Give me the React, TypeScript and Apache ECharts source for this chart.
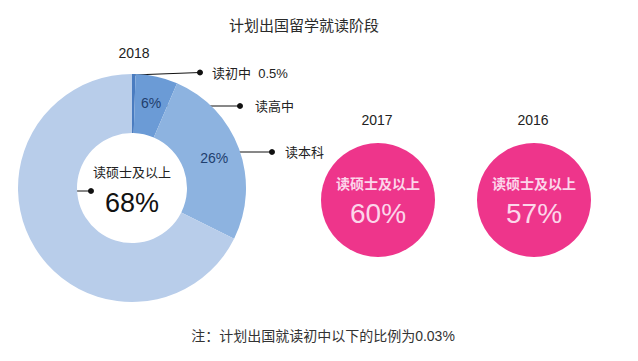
import React, { useEffect, useRef } from "react";
import * as echarts from "echarts";

const titleText = "计划出国留学就读阶段";
const footnote = "注：计划出国就读初中以下的比例为0.03%";
const stages = ["读初中", "读高中", "读本科", "读硕士及以上"];
const share2018 = [0.5, 6, 26, 68];
const years = ["2018", "2017", "2016"];
const masterShare = [68, 60, 57];

const FONT = "'Liberation Sans', 'Noto Sans CJK SC', sans-serif";
const sliceColors = ["#4a7cc0", "#6b9bd6", "#8db3e0", "#b8cdea"];
const pink = "#ee358b";
const pinkText = "#fcd6ea";

export default function App() {
  const ref = useRef<HTMLDivElement>(null);
  useEffect(() => {
    if (!ref.current) return;
    const chart = echarts.init(ref.current, null, { renderer: "svg" });

    const donutData = stages.map((name, i) => {
      const base: any = {
        name,
        value: share2018[i],
        itemStyle: { color: sliceColors[i] },
      };
      if (i === 0) {
        base.label = { show: false };
      } else if (i === 3) {
        base.label = {
          show: true,
          position: "center",
          formatter: "{a|{b}}\n{b|{c}%}",
          rich: {
            a: { fontSize: 13, color: "#222", fontFamily: FONT, lineHeight: 30 },
            b: { fontSize: 27, color: "#111", fontFamily: FONT, lineHeight: 32 },
          },
        };
      } else {
        base.label = {
          show: true,
          position: "inside",
          formatter: "{c}%",
          fontSize: 14,
          color: "#1f3f6e",
          fontFamily: FONT,
        };
      }
      return base;
    });

    const pinkCenters = [
      [378, 200],
      [534, 200],
    ];
    const pinkSeries = [1, 2].map((k, j) => ({
      type: "pie",
      silent: true,
      center: pinkCenters[j],
      radius: [0, 57],
      startAngle: 90,
      emphasis: { disabled: true },
      labelLine: { show: false },
      data: [
        {
          name: stages[3],
          value: masterShare[k],
          itemStyle: { color: pink },
        },
      ],
      label: {
        show: true,
        position: "center",
        formatter: "{a|{b}}\n{b|{c}%}",
        rich: {
          a: { fontSize: 14, color: pinkText, fontWeight: "bold", fontFamily: FONT, lineHeight: 26 },
          b: { fontSize: 28, color: pinkText, fontFamily: FONT, lineHeight: 32 },
        },
      },
    }));

    const yearPos = [
      [134, 53],
      [377, 120],
      [533, 120],
    ];

    const dot = (x: number, y: number) => ({
      type: "circle",
      shape: { cx: x, cy: y, r: 3 },
      style: { fill: "#111" },
      silent: true,
    });
    const seg = (x1: number, y1: number, x2: number, y2: number) => ({
      type: "line",
      shape: { x1, y1, x2, y2 },
      style: { stroke: "#111", lineWidth: 1 },
      silent: true,
    });
    const txt = (x: number, y: number, t: string, size = 13, align = "left", fill = "#222") => ({
      type: "text",
      x,
      y,
      silent: true,
      style: {
        text: t,
        fontSize: size,
        fontFamily: FONT,
        fill,
        align,
        verticalAlign: "middle",
      },
    });

    const graphics: any[] = [
      {
        type: "text",
        x: 304,
        y: 25,
        silent: true,
        style: {
          text: titleText,
          fontSize: 15,
          fontFamily: FONT,
          fill: "#2a2a2a",
          align: "center",
          verticalAlign: "middle",
        },
      },
      txt(323, 336, footnote, 14, "center", "#333"),
      ...years.map((y, i) => txt(yearPos[i][0], yearPos[i][1], y, 14, "center")),
      seg(133, 75, 200, 72.5),
      dot(200, 72.5),
      txt(212, 73, `${stages[0]}  ${share2018[0]}%`),
      seg(160, 106, 240, 106),
      dot(240, 106),
      txt(255, 106, stages[1]),
      seg(238, 152, 272, 152),
      dot(272, 152),
      txt(285, 152, stages[2]),
      seg(75, 191, 91, 191),
      dot(91, 191),
    ];

    chart.setOption({
      animation: false,
      backgroundColor: "#ffffff",
      textStyle: { fontFamily: FONT },
      series: [
        {
          type: "pie",
          silent: true,
          center: [132, 188],
          radius: [55, 114],
          startAngle: 90,
          clockwise: true,
          avoidLabelOverlap: false,
          minAngle: 0,
          emphasis: { disabled: true },
          labelLine: { show: false },
          data: donutData,
        },
        ...pinkSeries,
      ],
      graphic: graphics,
    });
    return () => chart.dispose();
  }, []);
  return (
    <div
      ref={ref}
      style={{ position: "fixed", left: 0, top: 0, width: 638, height: 361, background: "#fff" }}
    />
  );
}
